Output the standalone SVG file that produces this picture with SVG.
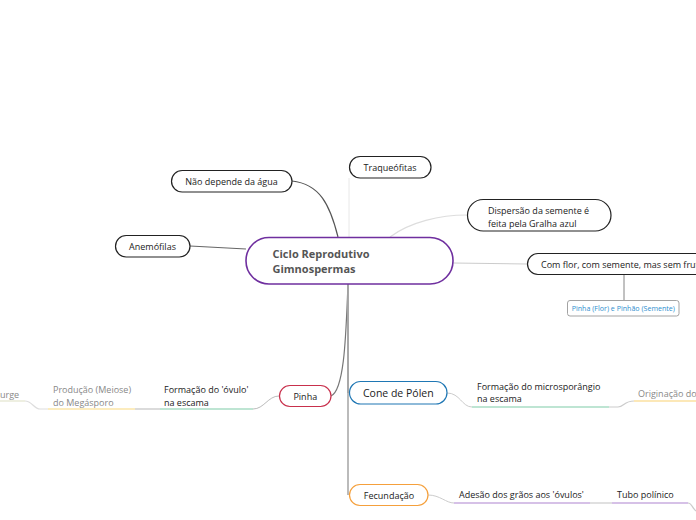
<svg xmlns="http://www.w3.org/2000/svg" width="696" height="520" viewBox="0 0 696 520">
<style>
text{font-family:"Open Sans","Noto Sans","Liberation Sans",sans-serif;font-size:9px;fill:#222}
.n{fill:#fff;stroke:#222;stroke-width:1.2}
.c{fill:none}
.g{fill:#888}
</style>
<rect width="696" height="520" fill="#fff"/>
<g id="connectors">
<path class="c" d="M292,181 C320,184 330,205 338,237" stroke="#555" stroke-width="1.2"/>
<path class="c" d="M349,178 L349,237" stroke="#e8e8e8" stroke-width="1"/>
<path class="c" d="M190,246 L246,249" stroke="#666" stroke-width="1.1"/>
<path class="c" d="M390,237 C410,222 440,215 467,215" stroke="#ddd" stroke-width="1.2"/>
<path class="c" d="M453,263 L527,264" stroke="#ccc" stroke-width="1.1"/>
<path class="c" d="M624,274 L624,300" stroke="#777" stroke-width="0.9"/>
<path class="c" d="M348,284 C346,330 345,390 331,396" stroke="#777" stroke-width="1.2"/>
<path class="c" d="M348,284 L348,393" stroke="#888" stroke-width="1.6"/>
<path class="c" d="M348,284 L348,495" stroke="#aaa" stroke-width="1.6"/>
<path class="c" d="M279,396 C268,396 264,409 253,409" stroke="#bbb" stroke-width="1"/>
<path class="c" d="M253,409 L160,409" stroke="#a8dcc4" stroke-width="1.4"/>
<path class="c" d="M160,409 L135,409" stroke="#ccc" stroke-width="1.4"/>
<path class="c" d="M135,409 L48,409" stroke="#fbe6a8" stroke-width="1.4"/>
<path class="c" d="M48,409 L40,409 C34,409 32,401 25,401 L0,401" stroke="#ddd" stroke-width="1.2"/>
<path class="c" d="M0,401 L25,401" stroke="#eef0dc" stroke-width="1.4"/>
<path class="c" d="M447,393 C460,393 462,407 472,407" stroke="#ccc" stroke-width="1"/>
<path class="c" d="M472,407 L609,407" stroke="#a8dcc4" stroke-width="1.4"/>
<path class="c" d="M609,407 L618,407 C624,407 624,401 634,401" stroke="#ccc" stroke-width="1.2"/>
<path class="c" d="M634,401 L696,401" stroke="#fbe0a0" stroke-width="1.4"/>
<path class="c" d="M428,495 C440,495 446,503 454,503" stroke="#ccc" stroke-width="1"/>
<path class="c" d="M454,503 L590,503" stroke="#c9acdf" stroke-width="1.4"/>
<path class="c" d="M590,503 L612,503" stroke="#ccc" stroke-width="1.2"/>
<path class="c" d="M612,503 L688,503" stroke="#c9acdf" stroke-width="1.4"/>
<path class="c" d="M688,503 C692,503 692,508 696,511" stroke="#ccc" stroke-width="1.2"/>
</g>
<g id="central">
<rect x="246" y="237.5" width="207" height="46.5" rx="23" fill="#fff" stroke="#6f2f9f" stroke-width="1.6"/>
<text x="272.5" y="258" style="font-weight:bold;font-size:11px;fill:#555">Ciclo Reprodutivo</text>
<text x="272.5" y="273" style="font-weight:bold;font-size:11px;fill:#555">Gimnospermas</text>
</g>
<g id="traqueofitas">
<rect class="n" x="349.5" y="156.5" width="81.5" height="21.5" rx="10.7"/>
<text x="390" y="171" text-anchor="middle">Traqueófitas</text>
</g>
<g id="nao-depende">
<rect class="n" x="171.5" y="170.5" width="120.5" height="21.5" rx="10.7"/>
<text x="231.5" y="185" text-anchor="middle">Não depende da água</text>
</g>
<g id="anemofilas">
<rect class="n" x="115.5" y="235.5" width="74.5" height="21.5" rx="10.7"/>
<text x="152.5" y="250" text-anchor="middle">Anemófilas</text>
</g>
<g id="dispersao">
<rect class="n" x="467.5" y="199.5" width="143.5" height="31.5" rx="15.7"/>
<text x="488" y="214">Dispersão da semente é</text>
<text x="488" y="227">feita pela Gralha azul</text>
</g>
<g id="com-flor">
<rect class="n" x="527.5" y="253.5" width="190" height="21" rx="10.5"/>
<text x="541" y="267.5">Com flor, com semente, mas sem frutos</text>
</g>
<g id="pinha-pinhao">
<rect x="567.5" y="300.5" width="111.5" height="15.5" rx="2.5" fill="#fff" stroke="#999" stroke-width="0.9"/>
<text x="623.3" y="311.2" text-anchor="middle" style="font-size:7.1px;fill:#2f8fcf">Pinha (Flor) e Pinhão (Semente)</text>
</g>
<g id="pinha">
<rect x="279.5" y="385.5" width="51.5" height="21" rx="10.5" fill="#fff" stroke="#c8304c" stroke-width="1.2"/>
<text x="305.3" y="399.5" text-anchor="middle">Pinha</text>
</g>
<g id="formacao-ovulo">
<text x="164" y="393">Formação do 'óvulo'</text>
<text x="164" y="405.5">na escama</text>
</g>
<g id="producao">
<text x="53" y="393" class="g">Produção (Meiose)</text>
<text x="53" y="405.5" class="g">do Megásporo</text>
</g>
<g id="surge">
<text x="-5" y="398" class="g">Surge</text>
</g>
<g id="cone-polen">
<rect x="349.5" y="381.5" width="97.5" height="22.5" rx="11.2" fill="#fff" stroke="#1f77b4" stroke-width="1.2"/>
<text x="398.3" y="397" text-anchor="middle" style="font-size:10.5px">Cone de Pólen</text>
</g>
<g id="formacao-micro">
<text x="477" y="389.5">Formação do microsporângio</text>
<text x="477" y="402">na escama</text>
</g>
<g id="originacao">
<text x="638" y="397" class="g">Originação do</text>
</g>
<g id="fecundacao">
<rect x="349.5" y="484.5" width="78.5" height="21" rx="10.5" fill="#fff" stroke="#f5a03c" stroke-width="1.2"/>
<text x="389" y="498.5" text-anchor="middle">Fecundação</text>
</g>
<g id="adesao">
<text x="459" y="498">Adesão dos grãos aos 'óvulos'</text>
</g>
<g id="tubo">
<text x="617" y="498">Tubo polínico</text>
</g>
</svg>
